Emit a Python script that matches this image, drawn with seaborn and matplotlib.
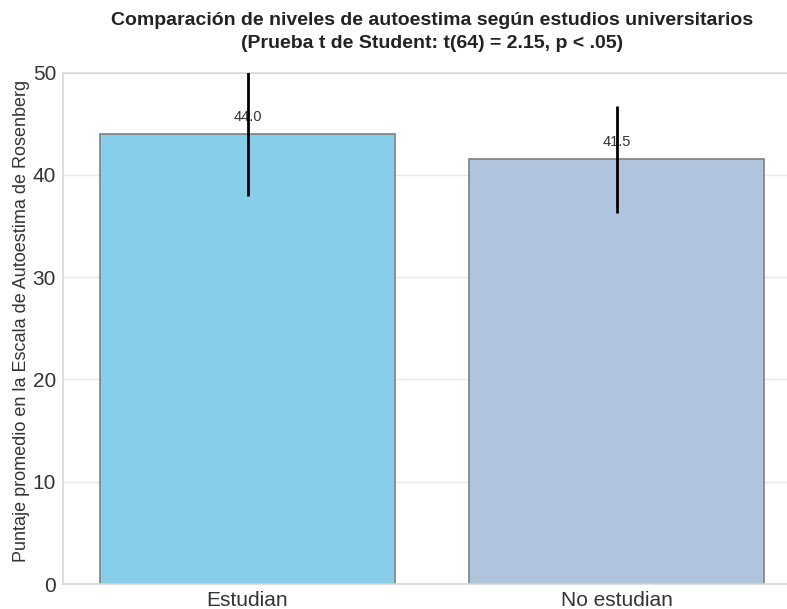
import matplotlib
matplotlib.use("Agg")
import matplotlib.pyplot as plt
import seaborn as sns
import pandas as pd

# Group means and standard deviations of the Rosenberg self-esteem scale
groups = ["Estudian", "No estudian"]
means = [44.0, 41.5]
sds = [6.1, 5.2]
bar_colors = ["#87CEEB", "#B0C4DE"]

sns.set_theme(style="whitegrid")
plt.rcParams["font.family"] = ["Liberation Sans", "DejaVu Sans"]
plt.rcParams["grid.color"] = "#e8e8e8"
plt.rcParams["axes.edgecolor"] = "#d9d9d9"

df = pd.DataFrame({"grupo": groups, "media": means, "de": sds})

fig = plt.figure(figsize=(7.87, 6.09), dpi=100)
ax = fig.add_axes([63 / 787, (609 - 584) / 609, 738 / 787, 511.5 / 609])

sns.barplot(data=df, x="grupo", y="media", hue="grupo", palette=bar_colors,
            saturation=1, edgecolor="gray", linewidth=1.2, errorbar=None,
            legend=False, ax=ax)
ax.errorbar(range(len(groups)), df["media"], yerr=df["de"], fmt="none",
            ecolor="black", elinewidth=2, capsize=0, zorder=4)

for i, m in enumerate(means):
    ax.text(i, m + 1, f"{m:.1f}", ha="center", va="bottom", fontsize=10.5,
            color="#333333", zorder=3)

ax.set_ylim(0, 50)
ax.set_xlim(-0.5, 1.5)
ax.set_xlabel("")
ax.set_ylabel("Puntaje promedio en la Escala de Autoestima de Rosenberg",
              fontsize=13, labelpad=2, color="#333333")
ax.yaxis.label.set_y(0.515)
ax.tick_params(axis="both", labelsize=15, length=0, pad=5, labelcolor="#333333")
ax.set_title("Comparación de niveles de autoestima según estudios universitarios\n"
             "(Prueba t de Student: t(64) = 2.15, p < .05)",
             fontsize=14, fontweight="bold", pad=18, color="#222222",
             linespacing=1.43)

fig.savefig("out.png", dpi=100)
